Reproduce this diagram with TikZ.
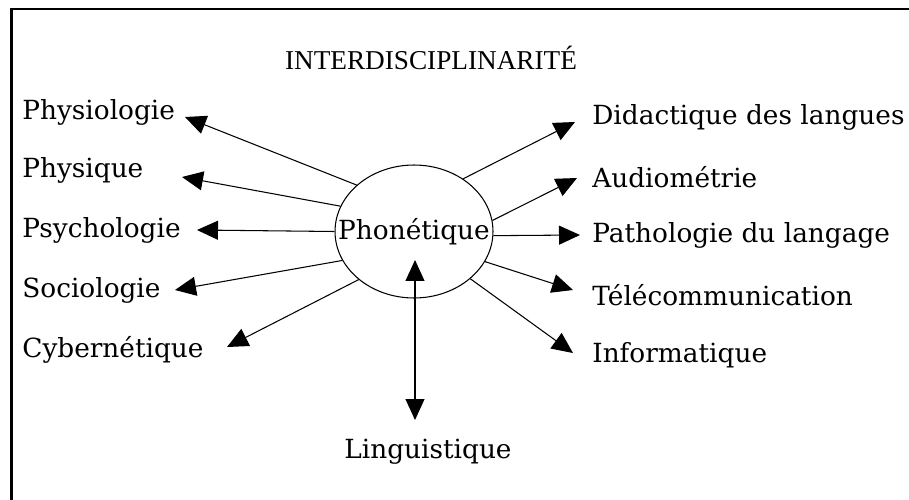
\documentclass[tikz,border=0pt]{standalone}
\usepackage{fontspec}
\setmainfont{DejaVu Serif}
\newfontfamily\titlefont{Liberation Serif}
\usetikzlibrary{shapes.geometric,arrows.meta}

\begin{document}
\begin{tikzpicture}[x=0.02cm,y=-0.02cm,
  every node/.style={font=\fontsize{15}{18}\selectfont,inner sep=0pt},
  lab/.style={anchor=west},
  arr/.style={-{Triangle[length=0.42cm,width=0.38cm]},line width=0.6pt},
  arrboth/.style={{Triangle[length=0.42cm,width=0.38cm]}-{Triangle[length=0.42cm,width=0.38cm]},line width=0.6pt}]
\useasboundingbox (0,0) rectangle (909,500);
\draw[line width=1.2pt] (11.5,500) -- (11.5,9) -- (909,9);
\node (titre) at (431,58) {\titlefont\fontsize{15.5}{18}\selectfont INTERDISCIPLINARITÉ};
\node[ellipse,draw,line width=0.6pt,minimum width=3.16cm,minimum height=2.66cm] (phon) at (414,231.5) {};
\node (phontxt) at (phon.center) {Phonétique};
\node[lab] (physio) at (22,112) {Physiologie};
\node[lab] (physiq) at (22,170) {Physique};
\node[lab] (psycho) at (22,230) {Psychologie};
\node[lab] (socio) at (22,290) {Sociologie};
\node[lab] (cyber) at (22,350) {Cybernétique};
\node[lab] (didac) at (592,117) {Didactique des langues};
\node[lab] (audio) at (592,177) {Audiométrie};
\node[lab] (patho) at (592,235) {Pathologie du langage};
\node[lab] (tele) at (592,295) {Télécommunication};
\node[lab] (info) at (592,355) {Informatique};
\node (ling) at (428,452) {Linguistique};
\coordinate (tphysio) at (185,117);
\coordinate (tphysiq) at (182,177);
\coordinate (tpsycho) at (197,230);
\coordinate (tsocio) at (175,290);
\coordinate (tcyber) at (227,347);
\coordinate (tdidac) at (575,122);
\coordinate (taudio) at (577,178);
\coordinate (tpatho) at (580,235);
\coordinate (ttele) at (573,290);
\coordinate (tinfo) at (573,353);
\coordinate (lhaut) at (415,260);
\coordinate (lbas) at (415,420);
\draw[arr] (phon.141) -- (tphysio);
\draw[arr] (phon.161) -- (tphysiq);
\draw[arr] (phon.180) -- (tpsycho);
\draw[arr] (phon.202) -- (tsocio);
\draw[arr] (phon.221) -- (tcyber);
\draw[arr] (phon.47) -- (tdidac);
\draw[arr] (phon.8) -- (taudio);
\draw[arr] (phon.-3) -- (tpatho);
\draw[arr] (phon.-23) -- (ttele);
\draw[arr] (phon.-40) -- (tinfo);
\draw[arrboth] (lhaut) -- (lbas);
\end{tikzpicture}
\end{document}
